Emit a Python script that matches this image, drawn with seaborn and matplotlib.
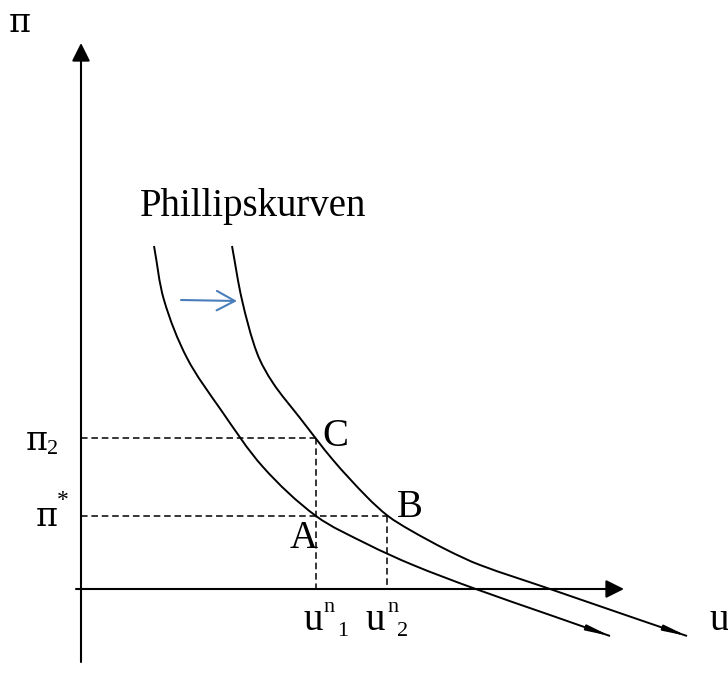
import numpy as np
import pandas as pd
import matplotlib
matplotlib.use("Agg")
import matplotlib.pyplot as plt
from matplotlib.path import Path
from matplotlib.patches import PathPatch
import seaborn as sns

# Diagram drawn in a pixel-like coordinate frame (y grows downwards)
lower_x = [154, 164, 187, 221, 263, 316, 367, 413, 473, 550, 610]
lower_y = [246, 300, 358, 410, 467, 516, 544, 565, 588, 615, 636]
upper_x = [232, 242, 257, 273, 300, 333, 367, 388, 410, 447, 480, 550, 640, 687]
upper_y = [246, 300, 353, 383, 418, 460, 497, 516, 530, 550, 565, 589, 620, 636]

origin = (81, 589)
y_axis_top = 43
y_axis_bottom = 662
x_axis_left = 76
x_axis_right = 624

pi_2 = 438
pi_star = 516
u_n1 = 316
u_n2 = 387

shift_arrow = [(181, 300), (237, 301)]

sns.set_style("white")
plt.rcParams["font.family"] = ["Liberation Serif", "DejaVu Serif"]
plt.rcParams["text.color"] = "black"


def smooth_path(xs, ys):
    # chord-length Catmull-Rom through the read points, as cubic Bezier segments
    p = np.column_stack([xs, ys]).astype(float)
    n = len(p)
    t = np.concatenate([[0], np.cumsum(np.linalg.norm(np.diff(p, axis=0), axis=1))])
    m = np.zeros_like(p)
    m[0] = (p[1] - p[0]) / (t[1] - t[0])
    m[-1] = (p[-1] - p[-2]) / (t[-1] - t[-2])
    for i in range(1, n - 1):
        m[i] = (p[i + 1] - p[i - 1]) / (t[i + 1] - t[i - 1])
    verts = [p[0]]
    codes = [Path.MOVETO]
    for i in range(n - 1):
        dt = t[i + 1] - t[i]
        verts += [p[i] + m[i] * dt / 3, p[i + 1] - m[i + 1] * dt / 3, p[i + 1]]
        codes += [Path.CURVE4] * 3
    return Path(verts, codes)


fig = plt.figure(figsize=(7.28, 6.93), dpi=100)
ax = fig.add_axes([0, 0, 1, 1])

# dashed guides
guides = pd.DataFrame({
    "x": [origin[0], u_n1, u_n1, u_n1, origin[0], u_n2, u_n2, u_n2],
    "y": [pi_2, pi_2, pi_2, origin[1], pi_star, pi_star, pi_star, origin[1]],
    "seg": [0, 0, 1, 1, 2, 2, 3, 3],
})
sns.lineplot(data=guides, x="x", y="y", units="seg", estimator=None, sort=False,
             color="black", lw=1.1, linestyle=(0, (4.3, 2.5)), ax=ax)

ax.set_xlim(0, 728)
ax.set_ylim(693, 0)
ax.axis("off")

# axes with arrows
axis_arrow = dict(arrowstyle="-|>,head_length=1.1,head_width=0.55",
                  lw=1.5, color="black", shrinkA=0, shrinkB=0)
ax.annotate("", xy=(origin[0], y_axis_top), xytext=(origin[0], y_axis_bottom), arrowprops=axis_arrow)
ax.annotate("", xy=(x_axis_right, origin[1]), xytext=(x_axis_left, origin[1]), arrowprops=axis_arrow)

# Phillips curves
for xs, ys in [(lower_x, lower_y), (upper_x, upper_y)]:
    ax.add_patch(PathPatch(smooth_path(xs, ys), fill=False, lw=1.4, edgecolor="black"))
    end = np.array([xs[-1], ys[-1]], float)
    prev = np.array([xs[-2], ys[-2]], float)
    d = (end - prev) / np.linalg.norm(end - prev)
    ax.annotate("", xy=end, xytext=end - 22 * d,
                arrowprops=dict(arrowstyle="-|>,head_length=1.3,head_width=0.16",
                                lw=1.4, color="black", shrinkA=0, shrinkB=0))

# shift arrow
ax.annotate("", xy=shift_arrow[1], xytext=shift_arrow[0],
            arrowprops=dict(arrowstyle="->,head_length=0.65,head_width=0.35", mutation_scale=20,
                            lw=1.5, color="#4a7ebb", shrinkA=0, shrinkB=0))

# labels
big = 28
small = 16
pi_font = ["DejaVu Serif"]
ax.text(9, 32, "π", fontsize=24, family=pi_font, va="baseline", ha="left")
ax.text(140, 216, "Phillipskurven", fontsize=big, va="baseline", ha="left")
ax.text(26, 450, "π", fontsize=24, family=pi_font, va="baseline", ha="left")
ax.text(47, 454, "2", fontsize=small, va="baseline", ha="left")
ax.text(36, 526, "π", fontsize=24, family=pi_font, va="baseline", ha="left")
ax.text(57, 490, "*", fontsize=17, va="top", ha="left")
ax.text(322, 446, "C", fontsize=big, va="baseline", ha="left")
ax.text(397, 517, "B", fontsize=big, va="baseline", ha="left")
ax.text(290, 548, "A", fontsize=big, va="baseline", ha="left")
ax.text(304, 630, "u", fontsize=big, va="baseline", ha="left")
ax.text(323, 612, "n", fontsize=small, va="baseline", ha="left")
ax.text(337, 636, "1", fontsize=small, va="baseline", ha="left")
ax.text(366, 630, "u", fontsize=big, va="baseline", ha="left")
ax.text(387, 612, "n", fontsize=small, va="baseline", ha="left")
ax.text(397, 636, "2", fontsize=small, va="baseline", ha="left")
ax.text(710, 630, "u", fontsize=big, va="baseline", ha="left")

fig.savefig("out.png", dpi=100)
